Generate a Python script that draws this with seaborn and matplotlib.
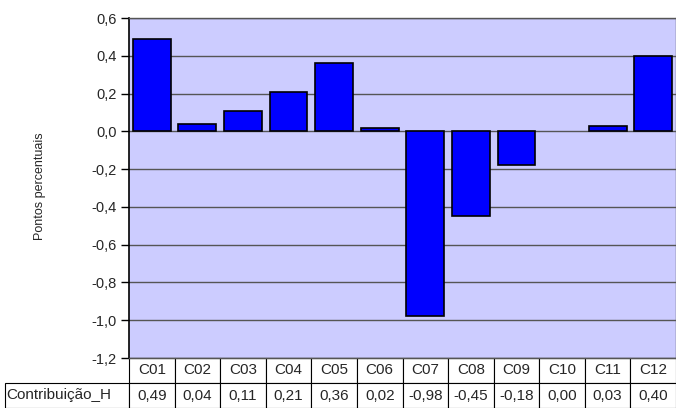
import seaborn as sns
import matplotlib.pyplot as plt
from matplotlib.ticker import FuncFormatter
import pandas as pd

# dados
categorias = ["C01", "C02", "C03", "C04", "C05", "C06",
              "C07", "C08", "C09", "C10", "C11", "C12"]
contribuicao_h = [0.49, 0.04, 0.11, 0.21, 0.36, 0.02,
                  -0.98, -0.45, -0.18, 0.00, 0.03, 0.40]
rotulo_serie = "Contribuição_H"
rotulo_y = "Pontos percentuais"

df = pd.DataFrame({"cat": categorias, "val": contribuicao_h})

sns.set_style("white")
plt.rcParams["font.family"] = ["Liberation Sans", "DejaVu Sans"]

fig = plt.figure(figsize=(6.76, 4.08), dpi=100)
ax = fig.add_axes([129 / 676, 1 - 358 / 408, 547 / 676, 340 / 408])
ax.set_facecolor("#CCCCFF")

ax.set_ylim(-1.2, 0.6)
ax.set_yticks([0.6, 0.4, 0.2, 0.0, -0.2, -0.4, -0.6, -0.8, -1.0, -1.2])
ax.yaxis.set_major_formatter(FuncFormatter(lambda v, p: f"{v:.1f}".replace(".", ",").replace("-0,0", "0,0")))
ax.grid(axis="y", color="#555555", linewidth=1)
ax.set_axisbelow(True)

sns.barplot(data=df, x="cat", y="val", order=categorias, color="#0000FF",
            saturation=1, width=0.83, edgecolor="black", linewidth=1.2, ax=ax)
# barra de valor zero não aparece
for p in ax.patches:
    if abs(p.get_height()) < 1e-9:
        p.set_linewidth(0)
ax.set_xlim(-0.5, 11.5)
ax.set_xticks([])
ax.set_xlabel("")
ax.set_ylabel("")

for s in ["top", "right", "bottom"]:
    ax.spines[s].set_color("#555555")
    ax.spines[s].set_linewidth(1)
ax.spines["left"].set_color("black")
ax.spines["left"].set_linewidth(1.2)
ax.tick_params(axis="y", direction="out", length=6, width=1, color="black",
               labelsize=10.5, pad=3, left=True)

fig.text(40 / 676, 1 - 186 / 408, rotulo_y, rotation=90, ha="center", va="center", fontsize=9)

# tabela de dados
largura_rot = 124 / 547
textos = [[""] + categorias,
          [rotulo_serie] + [f"{v:.2f}".replace(".", ",") for v in contribuicao_h]]
tab = ax.table(cellText=textos, colWidths=[largura_rot] + [1 / 12] * 12,
               bbox=[-largura_rot, -50 / 340, 1 + largura_rot, 50 / 340],
               cellLoc="center")
tab.auto_set_font_size(False)
tab.set_fontsize(11)
for (r, c), cell in tab.get_celld().items():
    cell.set_linewidth(0.8)
    cell.set_edgecolor("black")
    if r == 0 and c == 0:
        cell.visible_edges = ""
    if c == 0 and r == 1:
        cell.set_text_props(ha="left")
        cell.PAD = 0.01

fig.savefig("out.png", dpi=100)
